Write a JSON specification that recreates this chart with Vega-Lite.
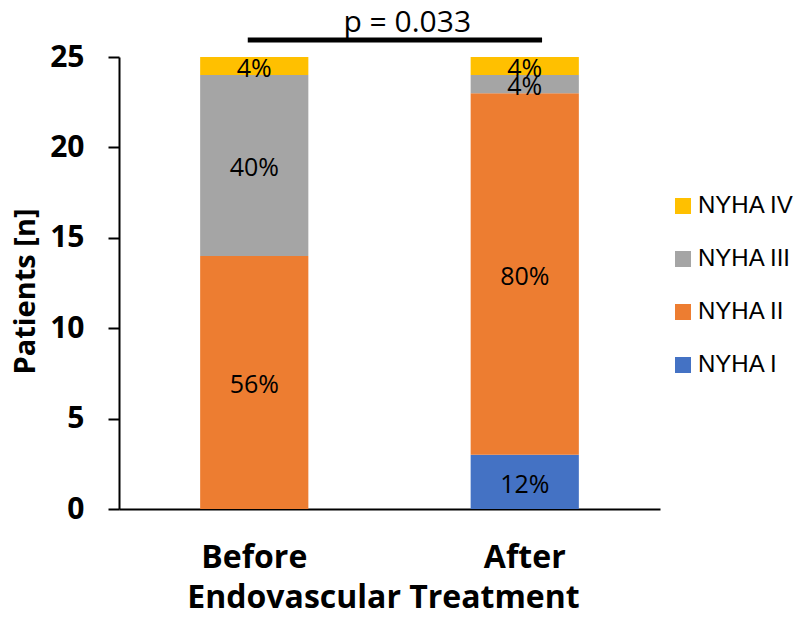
{
  "$schema": "https://vega.github.io/schema/vega-lite/v6.json",
  "width": 541,
  "height": 452,
  "autosize": "none",
  "padding": {"left": 119, "top": 57, "right": 140, "bottom": 119},
  "background": "white",
  "config": {"view": {"stroke": null}, "font": "Open Sans"},
  "data": {
    "values": [
      {"phase": "Before", "cls": "NYHA II", "n": 14, "pct": "56%"},
      {"phase": "Before", "cls": "NYHA III", "n": 10, "pct": "40%"},
      {"phase": "Before", "cls": "NYHA IV", "n": 1, "pct": "4%"},
      {"phase": "After", "cls": "NYHA I", "n": 3, "pct": "12%"},
      {"phase": "After", "cls": "NYHA II", "n": 20, "pct": "80%"},
      {"phase": "After", "cls": "NYHA III", "n": 1, "pct": "4%"},
      {"phase": "After", "cls": "NYHA IV", "n": 1, "pct": "4%"}
    ]
  },
  "layer": [
    {
      "mark": {"type": "bar"},
      "encoding": {
        "x": {
          "field": "phase", "type": "nominal", "sort": ["Before", "After"],
          "scale": {"paddingInner": 0.6, "paddingOuter": 0.3},
          "axis": {
            "title": "Endovascular Treatment", "labelAngle": 0,
            "labelFont": "Open Sans", "labelFontWeight": "bold", "labelFontSize": 32, "labelColor": "black",
            "labelPadding": 33, "ticks": false,
            "domainColor": "black", "domainWidth": 2,
            "titleFont": "Open Sans", "titleFontWeight": "bold", "titleFontSize": 32, "titleColor": "black",
            "titlePadding": 9, "titleX": 264
          }
        },
        "y": {
          "field": "n", "type": "quantitative", "stack": "zero",
          "scale": {"domain": [0, 25], "nice": false},
          "axis": {
            "title": "Patients [n]", "values": [0, 5, 10, 15, 20, 25], "grid": false,
            "labelFont": "Open Sans", "labelFontWeight": "bold", "labelFontSize": 30, "labelColor": "black",
            "labelPadding": 24, "tickSize": 11, "tickColor": "black", "tickWidth": 2,
            "domainColor": "black", "domainWidth": 2,
            "titleFont": "Open Sans", "titleFontWeight": "bold", "titleFontSize": 29, "titleColor": "black",
            "titleX": -94, "titleY": 234, "titleAngle": -90, "titleBaseline": "middle", "titleAlign": "center"
          }
        },
        "color": {
          "field": "cls", "type": "nominal",
          "scale": {"domain": ["NYHA IV", "NYHA III", "NYHA II", "NYHA I"], "range": ["#FFC000", "#A5A5A5", "#ED7D31", "#4472C4"]},
          "legend": {
            "title": null, "orient": "none", "legendX": 552, "legendY": 137,
            "symbolType": "square", "symbolSize": 256, "symbolStrokeWidth": 0,
            "labelFont": "Liberation Sans", "labelFontSize": 24, "labelColor": "black",
            "labelOffset": 3, "rowPadding": 29
          }
        },
        "order": {"field": "cls", "sort": "ascending"}
      }
    },
    {
      "transform": [
        {"stack": "n", "groupby": ["phase"], "sort": [{"field": "cls", "order": "ascending"}], "as": ["y0", "y1"]},
        {"calculate": "(datum.y0 + datum.y1) / 2", "as": "mid"}
      ],
      "mark": {"type": "text", "font": "Open Sans", "fontSize": 25, "color": "black", "baseline": "middle", "dy": 3},
      "encoding": {
        "x": {"field": "phase", "type": "nominal", "sort": ["Before", "After"]},
        "y": {"field": "mid", "type": "quantitative"},
        "text": {"field": "pct"}
      }
    },
    {
      "data": {"values": [{}]},
      "mark": {"type": "rule", "strokeWidth": 5, "color": "black"},
      "encoding": {
        "x": {"datum": "Before", "type": "nominal", "bandPosition": 0.44},
        "x2": {"datum": "After", "bandPosition": 0.66},
        "y": {"datum": 25.94, "type": "quantitative"}
      }
    },
    {
      "data": {"values": [{"label": "p = 0.033"}]},
      "mark": {"type": "text", "font": "Open Sans", "fontSize": 30, "color": "black", "baseline": "alphabetic", "align": "center", "dx": 153},
      "encoding": {
        "x": {"datum": "Before", "type": "nominal"},
        "y": {"datum": 26.38, "type": "quantitative"},
        "text": {"field": "label"}
      }
    }
  ]
}
